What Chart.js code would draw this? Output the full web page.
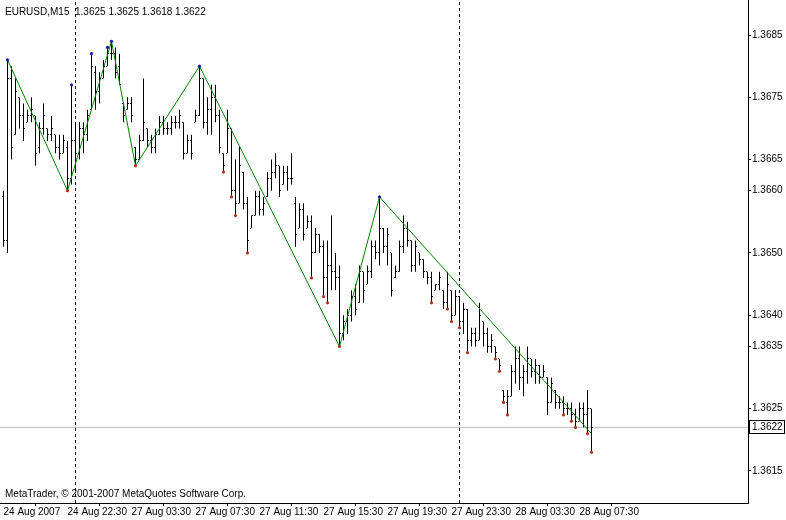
<!DOCTYPE html>
<html>
<head>
<meta charset="utf-8">
<script src="https://cdn.jsdelivr.net/npm/chart.js@4.4.0/dist/chart.umd.min.js"></script>
<style>
html,body{margin:0;padding:0;background:#fff}
canvas{display:block}
</style>
</head>
<body>
<canvas id="mt" width="786" height="520"></canvas>
<script>
// EURUSD M15, bar 0 = 24 Aug 2007 18:30
var symbol = 'EURUSD,M15';
var opens = [
1.3659,1.3652,1.3678,1.3669,1.3675,1.3672,1.3671,1.3672,1.3672,1.3667,
1.3670,1.3670,1.3669,1.3669,1.3667,1.3666,1.3667,1.3662,1.3668,1.3666,
1.3670,1.3669,1.3673,1.3679,1.3676,1.3678,1.3680,1.3682,1.3682,1.3680,
1.3674,1.3673,1.3674,1.3667,1.3665,1.3668,1.3670,1.3668,1.3667,1.3669,
1.3671,1.3670,1.3670,1.3671,1.3671,1.3671,1.3666,1.3668,1.3671,1.3672,
1.3678,1.3671,1.3673,1.3675,1.3672,1.3666,1.3666,1.3670,1.3660,1.3658,
1.3663,1.3658,1.3654,1.3656,1.3659,1.3657,1.3659,1.3662,1.3663,1.3664,
1.3661,1.3663,1.3662,1.3658,1.3654,1.3657,1.3654,1.3655,1.3650,1.3653,
1.3651,1.3646,1.3648,1.3647,1.3646,1.3637,1.3639,1.3640,1.3643,1.3642,
1.3647,1.3645,1.3647,1.3651,1.3650,1.3654,1.3651,1.3650,1.3646,1.3647,
1.3651,1.3654,1.3652,1.3648,1.3650,1.3649,1.3647,1.3646,1.3644,1.3645,
1.3644,1.3642,1.3644,1.3640,1.3643,1.3639,1.3641,1.3636,1.3637,1.3636,
1.3639,1.3637,1.3635,1.3635,1.3633,1.3628,1.3626,1.3627,1.3631,1.3633,
1.3630,1.3631,1.3633,1.3631,1.3632,1.3630,1.3630,1.3626,1.3628,1.3626,
1.3626,1.3625,1.3625,1.3624,1.3623,1.3625,1.3624,1.3625];
var highs = [
1.3660,1.3681,1.3680,1.3678,1.3675,1.3674,1.3673,1.3675,1.3672,1.3671,
1.3674,1.3670,1.3672,1.3669,1.3669,1.3669,1.3668,1.3677,1.3671,1.3671,
1.3671,1.3673,1.3682,1.3680,1.3679,1.3681,1.3683,1.3684,1.3683,1.3682,
1.3674,1.3675,1.3675,1.3667,1.3669,1.3678,1.3670,1.3669,1.3670,1.3672,
1.3672,1.3671,1.3672,1.3672,1.3673,1.3671,1.3669,1.3669,1.3673,1.3680,
1.3678,1.3675,1.3677,1.3677,1.3673,1.3666,1.3673,1.3670,1.3665,1.3667,
1.3663,1.3659,1.3656,1.3660,1.3660,1.3659,1.3663,1.3665,1.3666,1.3664,
1.3664,1.3664,1.3666,1.3659,1.3658,1.3658,1.3656,1.3656,1.3654,1.3653,
1.3652,1.3652,1.3656,1.3650,1.3648,1.3640,1.3641,1.3644,1.3645,1.3648,
1.3647,1.3648,1.3652,1.3652,1.3659,1.3654,1.3654,1.3650,1.3648,1.3652,
1.3656,1.3655,1.3652,1.3652,1.3650,1.3649,1.3647,1.3647,1.3645,1.3647,
1.3644,1.3647,1.3644,1.3644,1.3643,1.3642,1.3641,1.3638,1.3638,1.3642,
1.3639,1.3638,1.3637,1.3635,1.3633,1.3628,1.3628,1.3632,1.3635,1.3635,
1.3632,1.3635,1.3633,1.3633,1.3632,1.3632,1.3630,1.3630,1.3628,1.3627,
1.3627,1.3626,1.3626,1.3625,1.3626,1.3626,1.3628,1.3625];
var lows = [
1.3651,1.3650,1.3665,1.3669,1.3670,1.3668,1.3671,1.3671,1.3664,1.3666,
1.3669,1.3668,1.3668,1.3666,1.3665,1.3666,1.3660,1.3661,1.3663,1.3665,
1.3666,1.3668,1.3673,1.3673,1.3674,1.3678,1.3680,1.3681,1.3678,1.3677,
1.3671,1.3673,1.3671,1.3664,1.3665,1.3668,1.3667,1.3666,1.3666,1.3669,
1.3669,1.3669,1.3669,1.3670,1.3670,1.3665,1.3666,1.3665,1.3671,1.3672,
1.3670,1.3669,1.3669,1.3671,1.3666,1.3663,1.3666,1.3659,1.3656,1.3658,
1.3657,1.3650,1.3654,1.3656,1.3656,1.3656,1.3659,1.3660,1.3662,1.3659,
1.3661,1.3660,1.3661,1.3651,1.3654,1.3652,1.3654,1.3646,1.3650,1.3650,
1.3643,1.3642,1.3644,1.3644,1.3635,1.3636,1.3637,1.3639,1.3640,1.3642,
1.3642,1.3645,1.3646,1.3649,1.3648,1.3650,1.3648,1.3643,1.3646,1.3647,
1.3650,1.3651,1.3647,1.3647,1.3648,1.3646,1.3645,1.3642,1.3644,1.3644,
1.3641,1.3641,1.3639,1.3640,1.3638,1.3637,1.3634,1.3635,1.3635,1.3636,
1.3635,1.3634,1.3634,1.3633,1.3631,1.3626,1.3624,1.3627,1.3629,1.3628,
1.3627,1.3629,1.3630,1.3629,1.3629,1.3630,1.3624,1.3626,1.3625,1.3625,
1.3624,1.3624,1.3623,1.3622,1.3623,1.3622,1.3621,1.3618];
var closes = [
1.3652,1.3678,1.3667,1.3676,1.3672,1.3670,1.3672,1.3673,1.3666,1.3670,
1.3672,1.3669,1.3670,1.3667,1.3666,1.3668,1.3662,1.3668,1.3666,1.3670,
1.3669,1.3672,1.3680,1.3676,1.3678,1.3680,1.3682,1.3682,1.3679,1.3677,
1.3672,1.3674,1.3672,1.3665,1.3668,1.3671,1.3668,1.3667,1.3669,1.3671,
1.3670,1.3670,1.3671,1.3671,1.3672,1.3666,1.3668,1.3666,1.3672,1.3678,
1.3671,1.3673,1.3675,1.3672,1.3667,1.3664,1.3670,1.3660,1.3658,1.3664,
1.3658,1.3652,1.3656,1.3659,1.3657,1.3658,1.3662,1.3663,1.3664,1.3660,
1.3663,1.3662,1.3662,1.3653,1.3657,1.3653,1.3655,1.3650,1.3653,1.3651,
1.3646,1.3648,1.3647,1.3646,1.3637,1.3639,1.3640,1.3643,1.3641,1.3647,
1.3644,1.3647,1.3651,1.3650,1.3654,1.3651,1.3653,1.3644,1.3647,1.3651,
1.3654,1.3652,1.3648,1.3651,1.3649,1.3647,1.3646,1.3643,1.3645,1.3646,
1.3642,1.3645,1.3640,1.3643,1.3639,1.3641,1.3636,1.3637,1.3636,1.3640,
1.3637,1.3635,1.3636,1.3634,1.3632,1.3627,1.3627,1.3631,1.3633,1.3630,
1.3631,1.3633,1.3631,1.3632,1.3630,1.3631,1.3626,1.3629,1.3626,1.3626,
1.3625,1.3625,1.3624,1.3623,1.3625,1.3624,1.3625,1.3622];

// zigzag turning points (bar index, price)
var zigzagBars = [1, 16, 27, 33, 49, 84, 94, 147];
var zigzagPrices = [1.3681, 1.3660, 1.3684, 1.3664, 1.3680, 1.3635, 1.3659, 1.3621];
// marked highs (blue) and lows (red)
var upMarks = [1, 17, 22, 26, 27, 49, 94];
var downMarks = [16, 33, 55, 57, 58, 61, 77, 80, 81, 84, 107, 111, 112, 114, 116, 123, 124, 125, 126, 140, 142, 143, 146, 147];

var labelBars = [0, 16, 32, 48, 64, 80, 96, 112, 128, 144];
var timeLabels = ['24 Aug 2007', '24 Aug 22:30', '27 Aug 03:30', '27 Aug 07:30', '27 Aug 11:30',
  '27 Aug 15:30', '27 Aug 19:30', '27 Aug 23:30', '28 Aug 03:30', '28 Aug 07:30'];
var priceTicks = [1.3685, 1.3675, 1.3665, 1.3660, 1.3650, 1.3640, 1.3635, 1.3625, 1.3615];
var daySeparators = [18, 114];
var bid = 1.3622;

var n = opens.length;
var yMin = 1.360986, yMax = 1.369062;
var xMin = -0.875, xMax = 186.125;
var fontFamily = '"Liberation Sans", Arial, sans-serif';
var FONT = '10px ' + fontFamily;

var barData = opens.map(function (o, i) { return { x: i, y: [lows[i], highs[i]] }; });
var zigzag = zigzagBars.map(function (b, i) { return { x: b, y: zigzagPrices[i] }; });
var upPts = upMarks.map(function (b) { return { x: b, y: highs[b] }; });
var downPts = downMarks.map(function (b) { return { x: b, y: lows[b] }; });

var sepSets = daySeparators.map(function (b) {
  return {
    type: 'line', order: 3,
    data: [{ x: b, y: yMin }, { x: b, y: yMax }],
    borderColor: '#000', borderWidth: 1, borderDash: [3, 3],
    pointRadius: 0, fill: false
  };
});

// open / close ticks on each bar
var ohlcTicks = {
  id: 'ohlcTicks',
  afterDatasetsDraw: function (chart) {
    var ctx = chart.ctx, xs = chart.scales.x, ys = chart.scales.y;
    ctx.save();
    ctx.fillStyle = '#000';
    for (var i = 0; i < n; i++) {
      var px = Math.floor(xs.getPixelForValue(i));
      ctx.fillRect(px - 1, Math.floor(ys.getPixelForValue(opens[i])), 1, 1);
      ctx.fillRect(px + 1, Math.floor(ys.getPixelForValue(closes[i])), 1, 1);
    }
    ctx.restore();
  }
};

var texts = {
  id: 'texts',
  afterDraw: function (chart) {
    var ctx = chart.ctx, ys = chart.scales.y, a = chart.chartArea;
    var last = n - 1;
    ctx.save();
    ctx.font = FONT;
    ctx.fillStyle = '#000';
    ctx.textBaseline = 'middle';
    ctx.textAlign = 'left';
    ctx.fillText(symbol + '  ' + opens[last].toFixed(4) + ' ' + highs[last].toFixed(4) + ' ' +
      lows[last].toFixed(4) + ' ' + closes[last].toFixed(4), 5, 12);
    ctx.fillText('MetaTrader, \u00a9 2001-2007 MetaQuotes Software Corp.', 5, 494);
    // bid label on the price axis
    var by = Math.round(ys.getPixelForValue(bid));
    ctx.fillStyle = '#fff';
    ctx.fillRect(a.right + 1, by - 7, 37, 14);
    ctx.strokeStyle = '#000';
    ctx.lineWidth = 1;
    ctx.strokeRect(a.right + 1.5, by - 6.5, 35, 13);
    ctx.fillStyle = '#000';
    ctx.fillText(bid.toFixed(4), a.right + 4, by + 0.5);
    ctx.restore();
  }
};

var config = {
  type: 'bar',
  data: {
    datasets: [
      { type: 'scatter', order: 0, data: upPts, pointRadius: 1.6, pointBackgroundColor: '#1a1aa8', pointBorderWidth: 0 },
      { type: 'scatter', order: 0, data: downPts, pointRadius: 1.6, pointBackgroundColor: '#b83010', pointBorderWidth: 0 },
      { type: 'line', order: 1, data: zigzag, borderColor: '#008000', borderWidth: 1, pointRadius: 0, tension: 0, fill: false },
      { type: 'bar', order: 2, data: barData, backgroundColor: '#000', borderWidth: 0, barThickness: 1, inflateAmount: 0, grouped: false },
      sepSets[0], sepSets[1],
      { type: 'line', order: 4, data: [{ x: xMin, y: bid }, { x: xMax, y: bid }], borderColor: '#c0c0c0', borderWidth: 1, pointRadius: 0, fill: false }
    ]
  },
  options: {
    responsive: false,
    animation: false,
    events: [],
    layout: { padding: 0, autoPadding: false },
    plugins: { legend: { display: false }, tooltip: { enabled: false } },
    scales: {
      x: {
        type: 'linear', position: 'bottom', min: xMin, max: xMax, offset: false,
        afterBuildTicks: function (s) { s.ticks = labelBars.map(function (v) { return { value: v }; }); },
        afterFit: function (s) { s.height = 17; s.paddingLeft = 0; s.paddingRight = 0; },
        ticks: {
          align: 'start', autoSkip: false, maxRotation: 0, padding: 0, color: '#000',
          font: { family: fontFamily, size: 10 },
          callback: function (v) { var k = labelBars.indexOf(v); return k < 0 ? '' : timeLabels[k]; }
        },
        grid: { drawOnChartArea: false, drawTicks: true, tickLength: 3, color: '#000' },
        border: { display: true, color: '#000' }
      },
      y: {
        type: 'linear', position: 'right', min: yMin, max: yMax,
        afterBuildTicks: function (s) { s.ticks = priceTicks.map(function (v) { return { value: v }; }); },
        afterFit: function (s) { s.width = 38; s.paddingTop = 0; s.paddingBottom = 0; },
        ticks: {
          autoSkip: false, padding: 1, color: '#000',
          font: { family: fontFamily, size: 10 },
          callback: function (v) { return Number(v).toFixed(4); }
        },
        grid: { drawOnChartArea: false, drawTicks: true, tickLength: 3, color: '#000' },
        border: { display: true, color: '#000' }
      }
    }
  },
  plugins: [ohlcTicks, texts]
};

window.onload = function () {
  var ctx = document.getElementById('mt').getContext('2d');
  window.mtChart = new Chart(ctx, config);
};
</script>
</body>
</html>
